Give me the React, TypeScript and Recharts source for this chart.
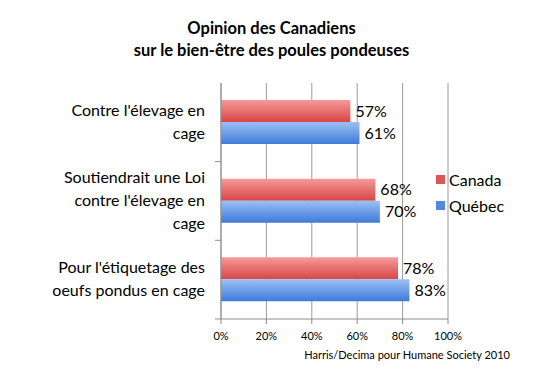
import { BarChart, Bar, XAxis, YAxis, CartesianGrid, LabelList } from 'recharts';

const categories = ["Contre l'élevage en cage", "Soutiendrait une Loi contre l'élevage en cage", "Pour l'étiquetage des oeufs pondus en cage"];
const categoryLines = [
  ["Contre l'élevage en", 'cage'],
  ['Soutiendrait une Loi', "contre l'élevage en", 'cage'],
  ["Pour l'étiquetage des", 'oeufs pondus en cage'],
];
const canada = [57, 68, 78];
const quebec = [61, 70, 83];
const xTicks = [0, 20, 40, 60, 80, 100];
const seriesNames = ['Canada', 'Québec'];
const seriesColors = ['#e05555', '#4f8ae0'];

const data = categories.map((name, i) => ({ name, canada: canada[i], quebec: quebec[i] }));

const FONT = 'Lato, "Open Sans", sans-serif';

function CategoryTick(props: any) {
  const { x, y, payload, index } = props;
  const lines = categoryLines[index] || [payload.value];
  const lh = 23;
  const startY = y - ((lines.length - 1) * lh) / 2;
  return (
    <g>
      {lines.map((line: string, i: number) => (
        <text key={i} x={x - 8} y={startY + i * lh} dy={5} textAnchor="end" fontSize={16} fill="#000" fontFamily={FONT}>
          {line}
        </text>
      ))}
      <line x1={x + 2} x2={x + 8} y1={y + 39.3} y2={y + 39.3} stroke="#8c8c8c" />
    </g>
  );
}

export default function App() {
  return (
    <div style={{ position: 'absolute', left: 0, top: 0, width: 539, height: 373, background: '#fff' }}>
      <div
        style={{
          position: 'absolute', left: 0, top: 17, width: 539, textAlign: 'center',
          fontFamily: FONT, fontWeight: 700, fontSize: 16.5, lineHeight: '22px', paddingLeft: 2,
        }}
      >
        Opinion des Canadiens
        <br />
        sur le bien-être des poules pondeuses
      </div>
      <BarChart
        width={539}
        height={373}
        data={data}
        layout="vertical"
        margin={{ top: 83, right: 91, bottom: 34, left: 6 }}
        barGap={0}
      >
        <defs>
          <linearGradient id="gradCanada" x1="0" y1="0" x2="0" y2="1">
            <stop offset="0%" stopColor="#f59a9a" />
            <stop offset="100%" stopColor="#d84545" />
          </linearGradient>
          <linearGradient id="gradQuebec" x1="0" y1="0" x2="0" y2="1">
            <stop offset="0%" stopColor="#9cc0f5" />
            <stop offset="100%" stopColor="#3e7bd8" />
          </linearGradient>
        </defs>
        <CartesianGrid horizontal={false} stroke="#9a9a9a" />
        <XAxis
          type="number"
          domain={[0, 100]}
          ticks={xTicks}
          tickFormatter={(v) => `${v}%`}
          height={20}
          stroke="#8c8c8c"
          tickSize={5}
          tick={{ fill: '#000', fontSize: 11, fontFamily: FONT }}
          tickMargin={8}
          interval={0}
        />
        <YAxis
          type="category"
          dataKey="name"
          width={215}
          stroke="#8c8c8c"
          tickLine={false}
          tick={<CategoryTick />}
          interval={0}
        />
        <Bar dataKey="canada" name="Canada" fill="url(#gradCanada)" barSize={22} isAnimationActive={false}>
          <LabelList dataKey="canada" position="right" offset={5} formatter={(v: any) => `${v}%`} fill="#000" fontSize={16} fontFamily={FONT} />
        </Bar>
        <Bar dataKey="quebec" name="Québec" fill="url(#gradQuebec)" barSize={22} isAnimationActive={false}>
          <LabelList dataKey="quebec" position="right" offset={5} formatter={(v: any) => `${v}%`} fill="#000" fontSize={16} fontFamily={FONT} />
        </Bar>
      </BarChart>
      <div style={{ position: 'absolute', left: 436, top: 166, fontFamily: FONT, fontSize: 16 }}>
        {seriesNames.map((name, i) => (
          <div key={name} style={{ display: 'flex', alignItems: 'center', height: 26 }}>
            <div style={{ width: 9, height: 9, background: seriesColors[i], marginRight: 4 }} />
            <span>{name}</span>
          </div>
        ))}
      </div>
      <div style={{ position: 'absolute', left: 0, top: 348, width: 510, textAlign: 'right', fontFamily: FONT, fontSize: 11 }}>
        Harris/Decima pour Humane Society 2010
      </div>
    </div>
  );
}
